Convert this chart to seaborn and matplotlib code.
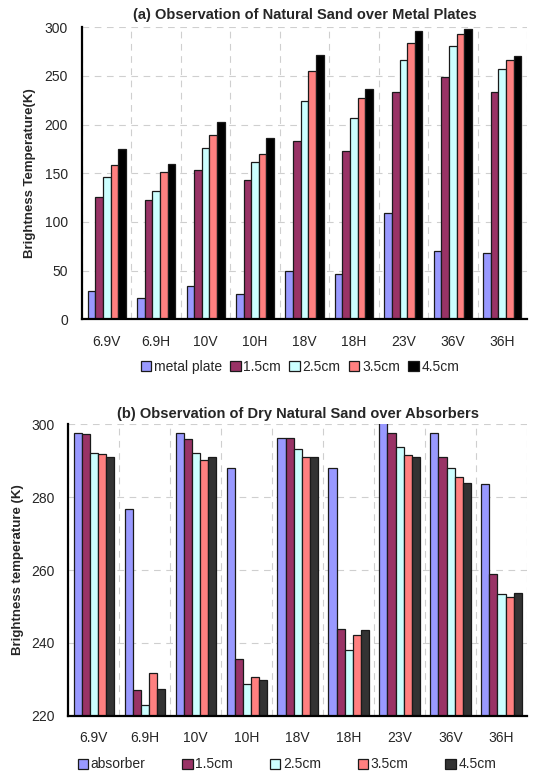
import pandas as pd
import matplotlib.pyplot as plt
import seaborn as sns

# canais de observacao
bands = ["6.9V", "6.9H", "10V", "10H", "18V", "18H", "23V", "36V", "36H"]

# (a) areia natural sobre placas metalicas
layers_a = ["metal plate", "1.5cm", "2.5cm", "3.5cm", "4.5cm"]
metal_plate = [29, 22, 34, 26, 50, 47, 109, 70, 68]
a_15cm = [126, 123, 153, 143, 183, 173, 234, 249, 234]
a_25cm = [146, 132, 176, 162, 224, 207, 266, 281, 257]
a_35cm = [159, 151, 189, 170, 255, 227, 284, 293, 266]
a_45cm = [175, 160, 203, 186, 272, 237, 296, 298, 271]

# (b) areia seca sobre absorvedores
layers_b = ["absorber", "1.5cm", "2.5cm", "3.5cm", "4.5cm"]
absorber = [297.6, 276.6, 297.4, 287.9, 296.1, 287.9, 300.6, 297.6, 283.5]
b_15cm = [297.3, 227.1, 296.0, 235.5, 296.1, 243.8, 297.6, 290.9, 258.8]
b_25cm = [292.1, 222.9, 292.1, 228.8, 293.1, 238.2, 293.7, 287.9, 253.3]
b_35cm = [291.8, 231.8, 290.1, 230.7, 291.0, 242.1, 291.4, 285.4, 252.6]
b_45cm = [291.0, 227.5, 290.9, 229.9, 291.0, 243.6, 291.0, 283.8, 253.7]

colors_a = ["#9999FF", "#993366", "#CCFFFF", "#FF8080", "#000000"]
colors_b = ["#9999FF", "#993366", "#CCFFFF", "#FF8080", "#333333"]


def to_long(layers, series):
    rows = []
    for layer, values in zip(layers, series):
        for band, v in zip(bands, values):
            rows.append({"band": band, "layer": layer, "tb": v})
    return pd.DataFrame(rows)


def style_axes(ax, ymin, ymax, major, minor):
    n = len(bands)
    ax.set_xlim(-0.5, n - 0.5)
    ax.set_ylim(ymin, ymax)
    ax.set_xticks([i - 0.5 for i in range(n + 1)])
    ax.set_xticklabels([])
    ax.set_xticks(range(n), minor=True)
    ax.set_xticklabels(bands, minor=True)
    ax.tick_params(axis="x", which="major", direction="out", length=4, width=1.5)
    ax.tick_params(axis="x", which="minor", direction="in", length=2, width=1,
                   labelsize=10, pad=11)
    ax.set_yticks(range(ymin, ymax + 1, major))
    ax.set_yticks(range(ymin, ymax + 1, minor), minor=True)
    ax.tick_params(axis="y", which="major", direction="inout", length=8, width=1.5,
                   labelsize=10, pad=6)
    ax.tick_params(axis="y", which="minor", direction="in", length=4, width=1.2)
    ax.grid(True, which="major", color="#CFCFCF", linestyle=(0, (6, 5)), linewidth=0.8)
    ax.set_axisbelow(True)
    for side in ["top", "right"]:
        ax.spines[side].set_visible(False)
    for side in ["left", "bottom"]:
        ax.spines[side].set_linewidth(1.6)
        ax.spines[side].set_color("black")
    ax.set_xlabel("")


sns.set_style("white")
plt.rcParams["font.family"] = ["Liberation Sans", "DejaVu Sans"]

fig = plt.figure(figsize=(5.33, 7.78), dpi=100)
ax_a = fig.add_axes([0.1538, 0.5896, 0.8349, 0.3753])
ax_b = fig.add_axes([0.1281, 0.0797, 0.8606, 0.3753])

df_a = to_long(layers_a, [metal_plate, a_15cm, a_25cm, a_35cm, a_45cm])
df_b = to_long(layers_b, [absorber, b_15cm, b_25cm, b_35cm, b_45cm])

sns.barplot(data=df_a, x="band", y="tb", hue="layer", palette=colors_a,
            saturation=1, width=0.77, edgecolor="#1a1a1a", linewidth=0.9, ax=ax_a)
sns.barplot(data=df_b, x="band", y="tb", hue="layer", palette=colors_b,
            saturation=1, width=0.79, edgecolor="#1a1a1a", linewidth=0.9, ax=ax_b)

style_axes(ax_a, 0, 300, 50, 10)
style_axes(ax_b, 220, 300, 20, 5)

ax_a.set_ylabel("Brightness Temperature(K)", fontsize=9.5, fontweight="bold", labelpad=6)
ax_b.set_ylabel("Brightness temperature (K)", fontsize=9.5, fontweight="bold", labelpad=5)
ax_a.set_title("(a) Observation of Natural Sand over Metal Plates",
               fontsize=10.5, fontweight="bold", pad=6)
ax_b.set_title("(b) Observation of Dry Natural Sand over Absorbers",
               fontsize=10.5, fontweight="bold", pad=4)

# legendas
h, l = ax_a.get_legend_handles_labels()
ax_a.get_legend().remove()
fig.legend(h, l, loc="center", bbox_to_anchor=(300 / 533, 1 - 367 / 778), ncol=5,
           frameon=False, fontsize=10, handlelength=0.75, handleheight=0.75,
           handletextpad=0.2, columnspacing=0.6, borderaxespad=0)

h, l = ax_b.get_legend_handles_labels()
ax_b.get_legend().remove()
fig.legend(h, l, loc="lower left", mode="expand",
           bbox_to_anchor=(72 / 533, 1 - 777 / 778, 430 / 533, 18 / 778), ncol=5,
           frameon=False, fontsize=10, handlelength=0.75, handleheight=0.75,
           handletextpad=0.2, borderaxespad=0)

fig.savefig("out.png", dpi=100)
